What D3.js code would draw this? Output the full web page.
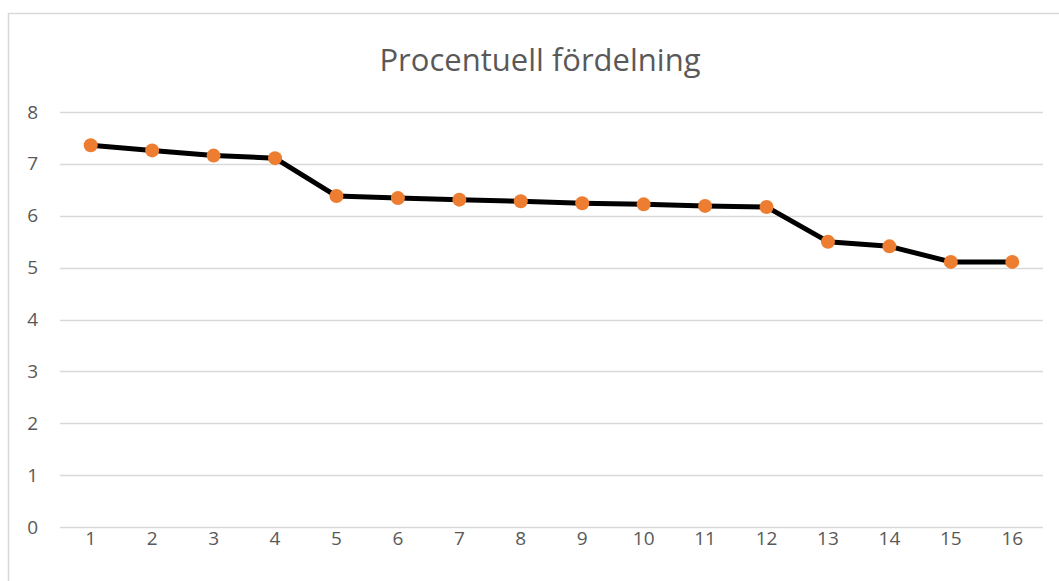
<!DOCTYPE html>
<html>
<head>
<meta charset="utf-8">
<script src="https://cdn.jsdelivr.net/npm/d3@7"></script>
<style>
    body { margin: 0; background: #fff; }
    text { font-family: "Open Sans", "Liberation Sans", sans-serif; fill: #595959; }
</style>
</head>
<body>
<div class="canvas"></div>
<script>
const categories = ['1', '2', '3', '4', '5', '6', '7', '8', '9', '10', '11', '12', '13', '14', '15', '16'];
const values = [7.36, 7.26, 7.16, 7.11, 6.38, 6.34, 6.31, 6.28, 6.24, 6.22, 6.19, 6.17, 5.50, 5.41, 5.11, 5.11];
const yTicks = [0, 1, 2, 3, 4, 5, 6, 7, 8];

const dim = { width: 1059, height: 581 };
const plot = { left: 60, right: 1043, top: 112, bottom: 527 };

const svg = d3.select('.canvas').append('svg')
    .attr('width', dim.width)
    .attr('height', dim.height);

// chart area border (top and left visible)
svg.append('path')
    .attr('d', `M8.5,${dim.height} V13.5 H${dim.width}`)
    .attr('fill', 'none')
    .attr('stroke', '#d9d9d9')
    .attr('stroke-width', 1.5);

svg.append('text')
    .attr('x', 540)
    .attr('y', 71)
    .attr('text-anchor', 'middle')
    .style('font-size', '31px')
    .text('Procentuell fördelning');

const x = d3.scaleBand()
    .domain(categories)
    .range([plot.left, plot.right]);

const y = d3.scaleLinear()
    .domain([0, 8])
    .range([plot.bottom, plot.top]);

// gridlines
svg.append('g')
    .selectAll('line')
    .data(yTicks)
    .enter().append('line')
    .attr('x1', plot.left)
    .attr('x2', plot.right)
    .attr('y1', d => Math.round(y(d)) + 0.5)
    .attr('y2', d => Math.round(y(d)) + 0.5)
    .attr('stroke', '#d9d9d9')
    .attr('stroke-width', 1.5);

// y axis labels
const yAxis = d3.axisLeft(y).tickValues(yTicks).tickSize(0).tickPadding(0);
const yg = svg.append('g')
    .attr('transform', `translate(38, 0)`)
    .call(yAxis);
yg.select('.domain').remove();
yg.selectAll('text')
    .style('font-size', '19px')
    .style('fill', '#595959')
    .style('font-family', '"Open Sans", "Liberation Sans", sans-serif');

// x axis labels
const xAxis = d3.axisBottom(x).tickSize(0).tickPadding(0);
const xg = svg.append('g')
    .attr('transform', `translate(0, ${plot.bottom + 4})`)
    .call(xAxis);
xg.select('.domain').remove();
xg.selectAll('text')
    .style('font-size', '19px')
    .style('fill', '#595959')
    .style('font-family', '"Open Sans", "Liberation Sans", sans-serif');

const cx = d => x(d) + x.bandwidth() / 2;

const line = d3.line()
    .x((d, i) => cx(categories[i]))
    .y(d => y(d));

svg.append('path')
    .datum(values)
    .attr('d', line)
    .attr('fill', 'none')
    .attr('stroke', '#000')
    .attr('stroke-width', 5)
    .attr('stroke-linejoin', 'round');

svg.append('g')
    .selectAll('circle')
    .data(values)
    .enter().append('circle')
    .attr('cx', (d, i) => cx(categories[i]))
    .attr('cy', d => y(d))
    .attr('r', 7)
    .attr('fill', '#ed7d31');
</script>
</body>
</html>
